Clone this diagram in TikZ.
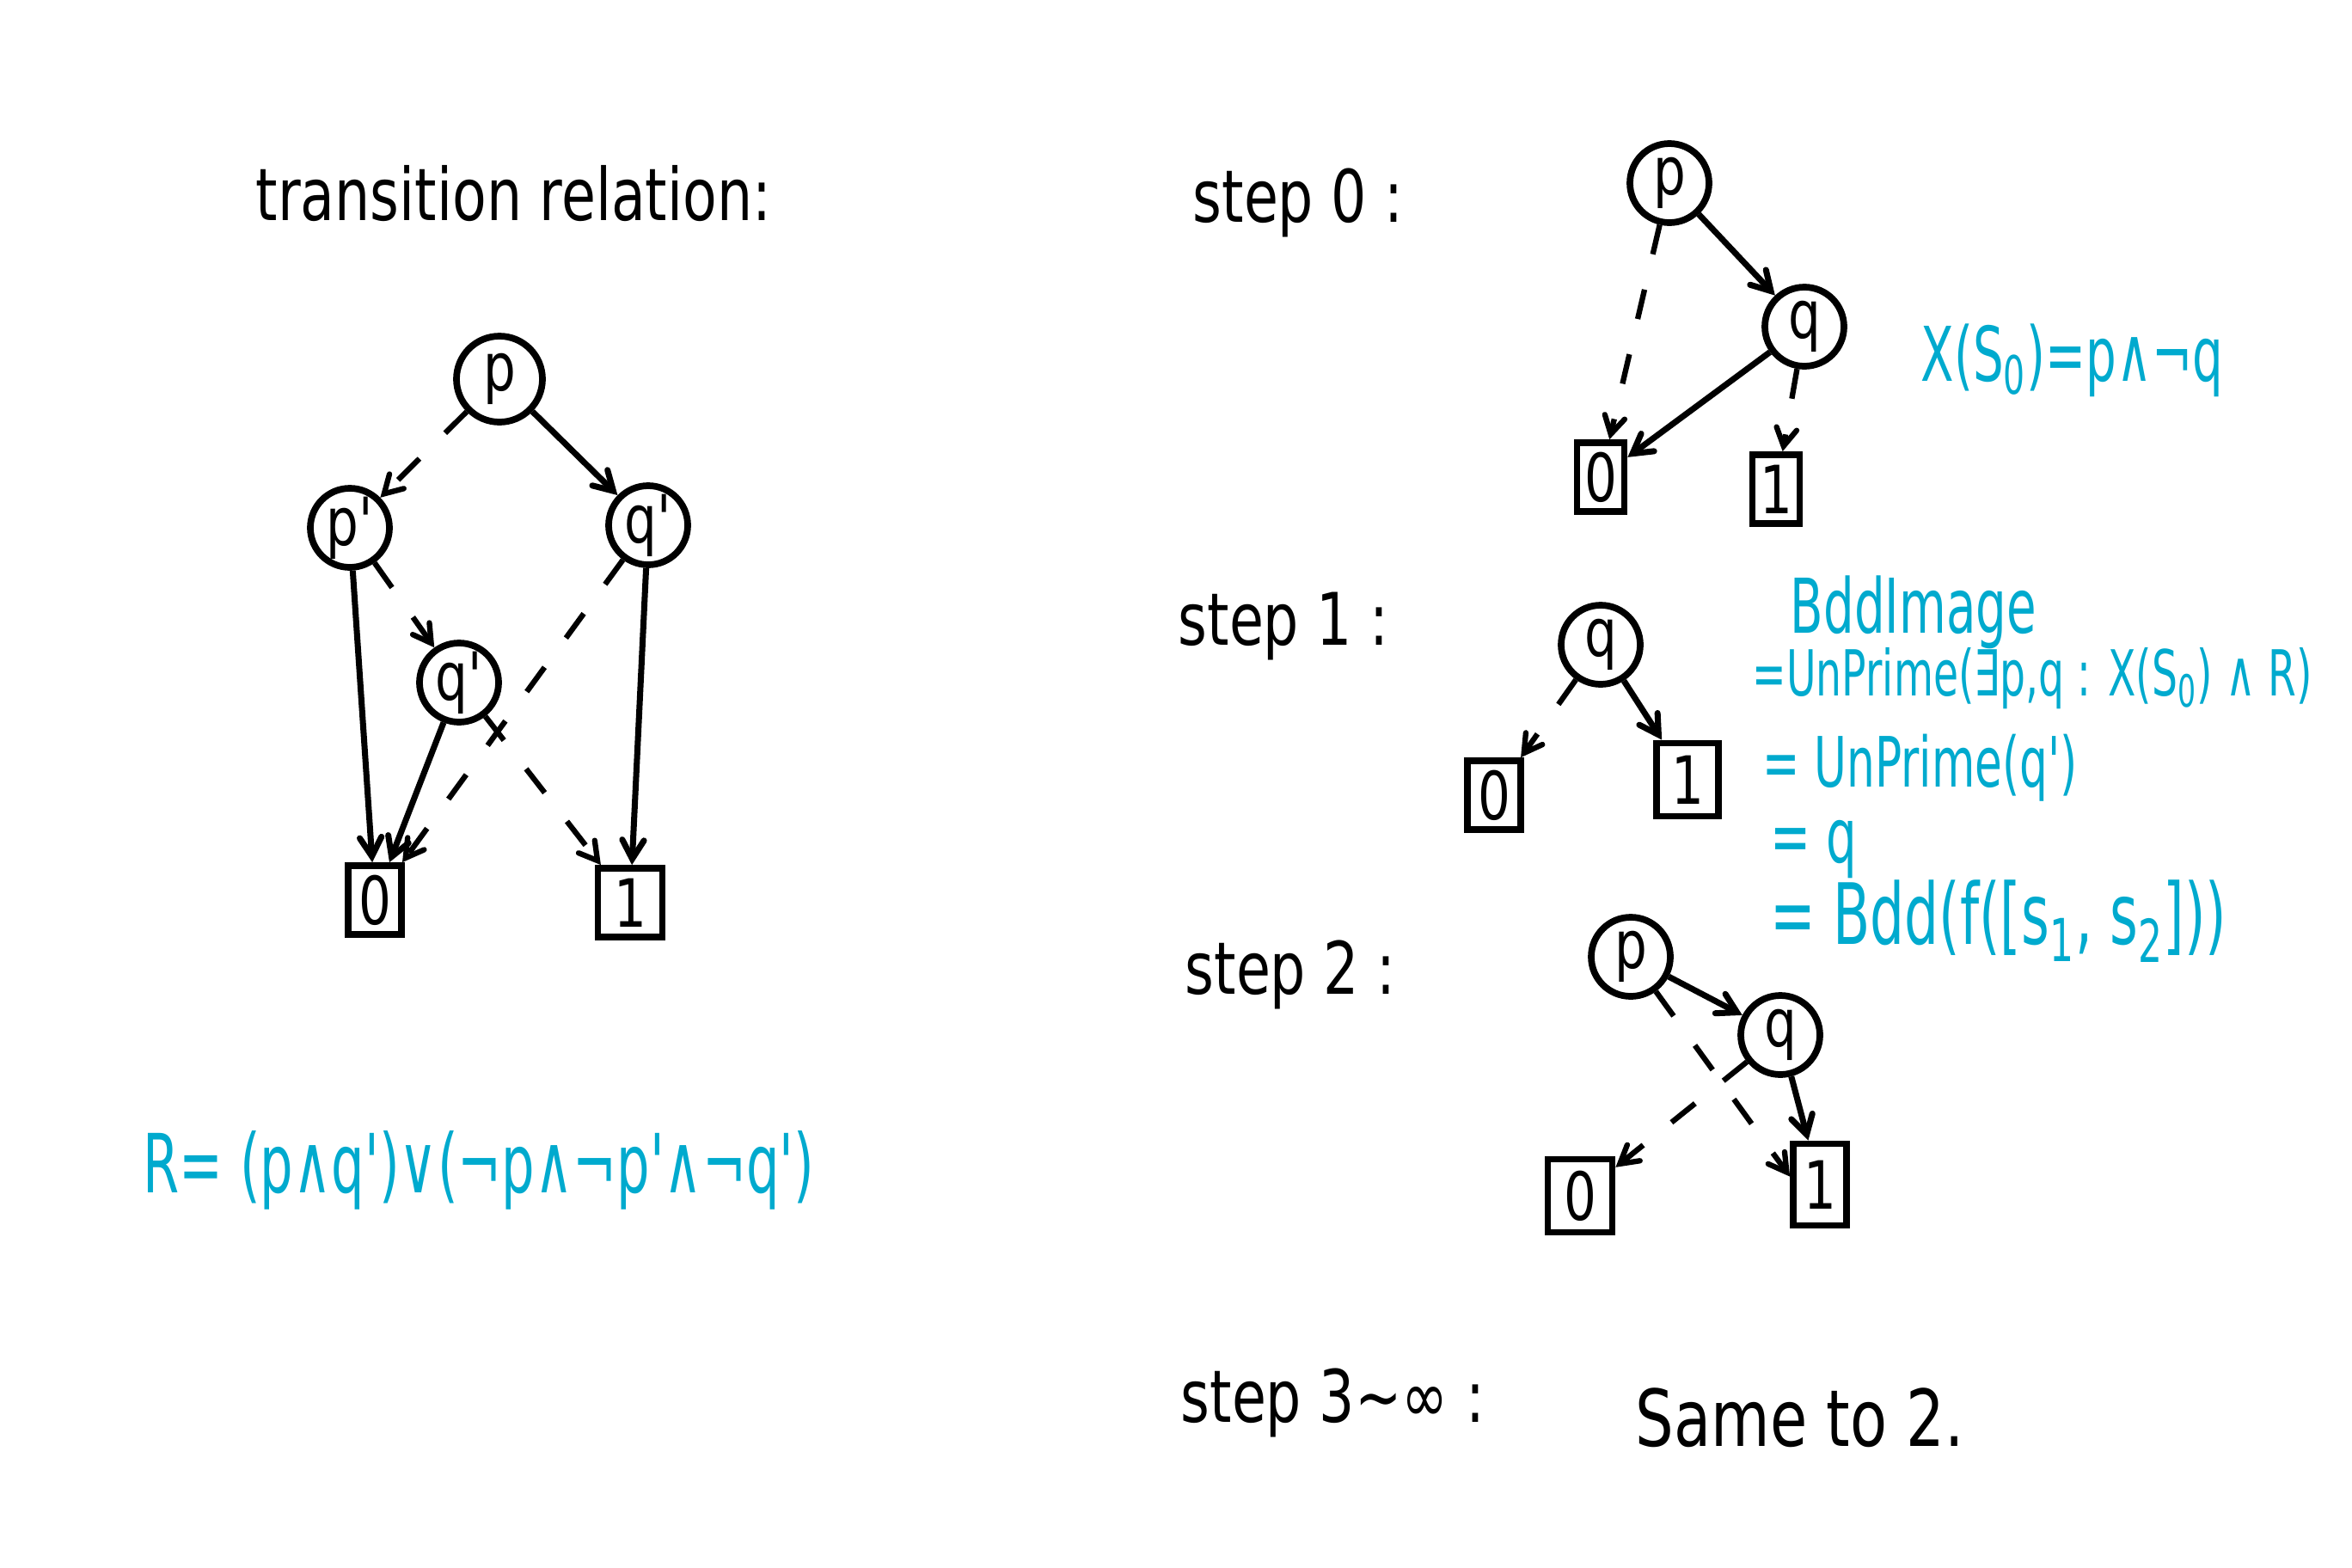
\documentclass[tikz,border=0pt]{standalone}
\usepackage{fontspec}
\setmainfont{DejaVu Sans}
\newfontfamily\handfont[FakeStretch=0.77]{DejaVu Sans}
\newfontfamily\bluefont[FakeStretch=0.64]{DejaVu Sans}
\usepackage{tikz}
\usetikzlibrary{arrows}
\definecolor{inkblue}{RGB}{0,170,206}

\begin{document}
\begin{tikzpicture}[
                    %scale = 0.5,
                    varnode/.style={circle, align = center,
                    draw = black, line width = 2.2pt, minimum size = 0.92cm, inner sep = 0pt,
                    font = \handfont\fontsize{22}{26}\selectfont},
                    leafnode/.style={rectangle, align = center,
                    draw = black, line width = 2.2pt, minimum width = 0.62cm, minimum height = 0.8cm, inner sep = 0pt,
                    font = \handfont\fontsize{22}{26}\selectfont},
                    hiarr/.style={>=angle 60, ->, line width = 2pt, draw = black},
                    loarr/.style={>=angle 60, ->, line width = 1.8pt, draw = black, dash pattern = on 10pt off 12pt},
                    steptext/.style={anchor = west, inner sep = 0pt, font = \handfont\fontsize{24}{28}\selectfont},
                    bluetext/.style={anchor = west, inner sep = 0pt, text = inkblue, font = \bluefont\fontsize{25}{30}\selectfont}]

                    \useasboundingbox (0,0) rectangle (27.36,-18.24);

                    \node[steptext] (trtitle) at (2.97,-2.25) {transition relation:};
                    \node[varnode, minimum size = 1cm] (lp) at (5.81,-4.41) {p};
                    \node[varnode] (lpp) at (4.07,-6.14) {p'};
                    \node[varnode] (lqr) at (7.54,-6.11) {q'};
                    \node[varnode] (lqm) at (5.34,-7.94) {q'};
                    \node[leafnode] (lzero) at (4.36,-10.47) {0};
                    \node[leafnode, minimum width = 0.75cm] (lone) at (7.33,-10.50) {1};
                    \draw[loarr] (lp) -- (lpp);
                    \draw[hiarr] (lp) -- (lqr);
                    \draw[hiarr] (lpp) -- (lzero);
                    \draw[loarr] (lpp) -- (lqm);
                    \draw[hiarr] (lqm) -- (lzero);
                    \draw[loarr] (lqm) -- (lone);
                    \draw[loarr] (lqr) -- (lzero);
                    \draw[hiarr] (lqr) -- (lone);
                    \node[bluetext, font = \bluefont\fontsize{27}{32}\selectfont] (rformula) at (1.66,-13.61) {R= (p∧q')∨(¬p∧¬p'∧¬q')};

                    \node[steptext] (stepzero) at (13.87,-2.36) {step 0 :};
                    \node[varnode] (ap) at (19.42,-2.13) {p};
                    \node[varnode] (aq) at (20.99,-3.80) {q};
                    \node[leafnode, minimum width = 0.55cm] (azero) at (18.62,-5.55) {0};
                    \node[leafnode, minimum width = 0.55cm] (aone) at (20.66,-5.69) {1};
                    \draw[loarr] (ap) -- (azero);
                    \draw[hiarr] (ap) -- (aq);
                    \draw[hiarr] (aq) -- (azero);
                    \draw[loarr] (aq) -- (aone);
                    \node[bluetext] (xszero) at (22.34,-4.19) {X(S\textsubscript{0})=p∧¬q};

                    \node[steptext] (stepone) at (13.70,-7.29) {step 1 :};
                    \node[varnode] (bq) at (18.62,-7.50) {q};
                    \node[leafnode] (bzero) at (17.38,-9.25) {0};
                    \node[leafnode, minimum width = 0.72cm, minimum height = 0.85cm] (bone) at (19.63,-9.07) {1};
                    \draw[loarr] (bq) -- (bzero);
                    \draw[hiarr] (bq) -- (bone);
                    \node[bluetext] (imgzero) at (20.82,-7.12) {BddImage};
                    \node[bluetext, font = \bluefont\fontsize{21}{25}\selectfont] (imgone) at (20.38,-7.89) {=UnPrime(∃p,q : X(S\textsubscript{0}) ∧ R)};
                    \node[bluetext, font = \bluefont\fontsize{23}{28}\selectfont] (imgtwo) at (20.50,-8.93) {= UnPrime(q')};
                    \node[bluetext] (imgthree) at (20.59,-9.88) {= q};
                    \node[bluetext, font = \bluefont\fontsize{28}{33}\selectfont] (imgfour) at (20.59,-10.72) {= Bdd(f([s\textsubscript{1}, s\textsubscript{2}]))};

                    \node[steptext] (steptwo) at (13.78,-11.34) {step 2 :};
                    \node[varnode] (cp) at (18.97,-11.13) {p};
                    \node[varnode] (cq) at (20.71,-12.04) {q};
                    \node[leafnode, minimum width = 0.75cm, minimum height = 0.85cm] (czero) at (18.38,-13.91) {0};
                    \node[leafnode, minimum height = 0.95cm] (cone) at (21.17,-13.78) {1};
                    \draw[hiarr] (cp) -- (cq);
                    \draw[loarr] (cp) -- (cone.165);
                    \draw[loarr] (cq) -- (czero);
                    \draw[hiarr] (cq) -- (cone);

                    \node[steptext] (stepthree) at (13.73,-16.32) {step 3\textasciitilde∞ :};
                    \node[steptext, font = \handfont\fontsize{26}{30}\selectfont] (sametwo) at (19.02,-16.49) {Same to 2.};
\end{tikzpicture}
\end{document}
